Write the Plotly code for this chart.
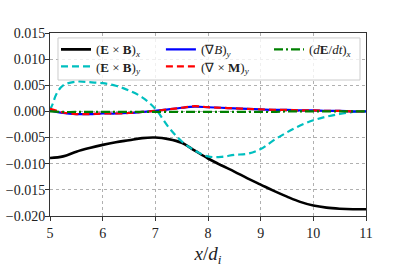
import plotly.graph_objects as go

x_grid = [5.0, 5.25, 5.5, 5.75, 6.0, 6.25, 6.5, 6.75, 7.0, 7.25, 7.5, 7.75, 8.0,
          8.25, 8.5, 8.75, 9.0, 9.25, 9.5, 9.75, 10.0, 10.25, 10.5, 10.75, 11.0]

exb_x = [-0.0089, -0.0086, -0.0077, -0.0070, -0.0064, -0.0059, -0.0055, -0.0051,
         -0.0050, -0.0053, -0.0060, -0.0075, -0.0090, -0.0103, -0.0115, -0.0128,
         -0.0140, -0.0152, -0.0163, -0.0173, -0.0180, -0.0184, -0.0186, -0.0187, -0.0187]

x_cyan = [5.0, 5.05, 5.12, 5.25, 5.5, 5.75, 6.0, 6.25, 6.5, 6.75, 7.0, 7.25, 7.5,
          7.75, 8.0, 8.25, 8.5, 8.75, 9.0, 9.25, 9.5, 9.75, 10.0, 10.25, 10.5, 10.75, 11.0]
exb_y = [0.0003, 0.0014, 0.0033, 0.0050, 0.0057, 0.0056, 0.0054, 0.0049, 0.0040,
         0.0027, 0.0005, -0.0030, -0.0057, -0.0075, -0.0086, -0.0087, -0.0083,
         -0.0081, -0.0072, -0.0055, -0.0040, -0.0027, -0.0017, -0.0010, -0.0005,
         -0.0001, 0.0]

grad_b = [0.0002, -0.0003, -0.0005, -0.0005, -0.0004, -0.0004, -0.0003, -0.0001,
          0.0001, 0.0004, 0.0007, 0.0009, 0.0008, 0.0007, 0.0006, 0.0005, 0.0004,
          0.0003, 0.0003, 0.0002, 0.0002, 0.0001, 0.0001, 0.0000, 0.0000]

curl_m = [0.0005, -0.0002, -0.0005, -0.0005, -0.0004, -0.0004, -0.0003, -0.0001,
          0.0001, 0.0004, 0.0007, 0.0010, 0.0008, 0.0007, 0.0006, 0.0005, 0.0004,
          0.0003, 0.0003, 0.0002, 0.0002, 0.0001, 0.0001, 0.0000, 0.0000]

de_dt = [0.0000, -0.0001, -0.0001, -0.0001, -0.0001, -0.0001, -0.0001, -0.0001,
         -0.0001, -0.0001, -0.0001, -0.0001, -0.0001, -0.0001, -0.0001, -0.0001,
         -0.0001, -0.0001, 0.0000, 0.0000, 0.0000, 0.0000, 0.0000, 0.0000, 0.0000]

x_ticks = [5, 6, 7, 8, 9, 10, 11]
y_ticks = [0.015, 0.010, 0.005, 0.0, -0.005, -0.010, -0.015, -0.020]
y_tick_labels = ["0.015", "0.010", "0.005", "0.000", "\u22120.005", "\u22120.010",
                 "\u22120.015", "\u22120.020"]

names = {
    "exb_x": "(<b>E</b> × <b>B</b>)<sub><i>x</i></sub>",
    "exb_y": "(<b>E</b> × <b>B</b>)<sub><i>y</i></sub>",
    "grad_b": "(∇<i>B</i>)<sub><i>y</i></sub>",
    "curl_m": "(∇ × <b>M</b>)<sub><i>y</i></sub>",
    "de_dt": "(<i>d</i><b>E</b>/<i>dt</i>)<sub><i>x</i></sub>",
}

x_range = [5, 11]
y_range = [-0.020, 0.015]

fig = go.Figure()
fig.add_trace(go.Scatter(x=x_grid, y=exb_x, mode="lines", name=names["exb_x"], legend="legend",
                         line=dict(color="black", width=2.6, shape="spline")))
fig.add_trace(go.Scatter(x=x_cyan, y=exb_y, mode="lines", name=names["exb_y"], legend="legend4",
                         line=dict(color="#00bfbf", width=2.2, dash="7px,4px", shape="spline")))
fig.add_trace(go.Scatter(x=x_grid, y=grad_b, mode="lines", name=names["grad_b"], legend="legend2",
                         line=dict(color="#0000ff", width=2.2, shape="spline")))
fig.add_trace(go.Scatter(x=x_grid, y=curl_m, mode="lines", name=names["curl_m"], legend="legend5",
                         line=dict(color="#ff0000", width=2.2, dash="7px,4px", shape="spline")))
fig.add_trace(go.Scatter(x=x_grid, y=de_dt, mode="lines", name=names["de_dt"], legend="legend3",
                         line=dict(color="#008000", width=2.2, dash="9px,3px,2px,3px",
                                   shape="spline")))

# legend frame, placed by fractions of the plot area
fx0, fx1, fy0, fy1 = 0.0253, 0.981, 0.743, 0.973
def px(f):
    return x_range[0] + f * (x_range[1] - x_range[0])
def py(f):
    return y_range[0] + f * (y_range[1] - y_range[0])
fig.add_trace(go.Scatter(x=[px(fx0), px(fx1), px(fx1), px(fx0), px(fx0)],
                         y=[py(fy0), py(fy0), py(fy1), py(fy1), py(fy0)],
                         mode="lines", fill="toself", fillcolor="rgba(255,255,255,0.8)",
                         line=dict(color="#cccccc", width=1), showlegend=False,
                         hoverinfo="skip"))

axis_common = dict(showline=True, linecolor="#333333", linewidth=1, mirror=True,
                   ticks="outside", ticklen=4, tickcolor="#333333",
                   showgrid=True, gridcolor="#b0b0b0", griddash="dot", gridwidth=1,
                   zeroline=False, automargin=False,
                   tickfont=dict(family="Liberation Serif", size=14, color="#222222"))

fig.update_xaxes(range=x_range, tickvals=x_ticks, **axis_common,
                 title=dict(text="<i>x</i>/<i>d<sub>i</sub></i>", standoff=6,
                            font=dict(family="Liberation Serif", size=19, color="#222222")))
fig.update_yaxes(range=y_range, tickvals=y_ticks, ticktext=y_tick_labels,
                 ticklabelstandoff=-3, **axis_common)

leg_common = dict(orientation="v", yanchor="middle", xanchor="left",
                  bgcolor="rgba(0,0,0,0)", borderwidth=0, tracegroupgap=0, itemwidth=30,
                  font=dict(family="Liberation Serif", size=13, color="#222222"))
col_x = [0.019, 0.351, 0.693]
row_y = [0.910, 0.817]

fig.update_layout(
    width=407, height=271,
    margin=dict(l=50, r=41, t=33, b=55),
    plot_bgcolor="white", paper_bgcolor="white",
    showlegend=True,
    legend=dict(x=col_x[0], y=row_y[0], **leg_common),
    legend2=dict(x=col_x[1], y=row_y[0], **leg_common),
    legend3=dict(x=col_x[2], y=row_y[0], **leg_common),
    legend4=dict(x=col_x[0], y=row_y[1], **leg_common),
    legend5=dict(x=col_x[1], y=row_y[1], **leg_common),
)

fig.write_html("out.html", config={"displayModeBar": False},
               post_script="document.body.style.margin='0px';")
